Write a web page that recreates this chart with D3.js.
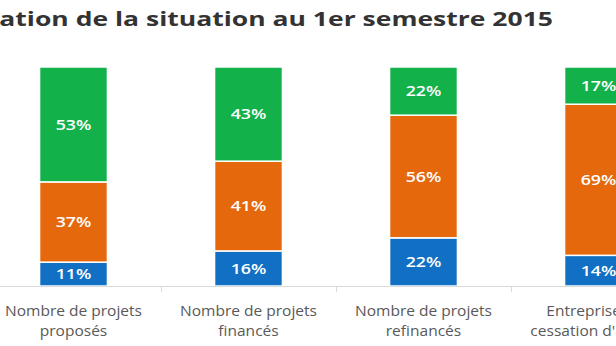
<!DOCTYPE html>
<html>
<head>
<meta charset="utf-8">
<script src="https://cdn.jsdelivr.net/npm/d3@7"></script>
<style>
  body { margin: 0; background: #fff; overflow: hidden; }
  svg { display: block; }
</style>
</head>
<body>
<div id="chart"></div>
<script>
// chart values
var categories = [
    ["Nombre de projets", "proposés"],
    ["Nombre de projets", "financés"],
    ["Nombre de projets", "refinancés"],
    ["Entreprises en", "cessation d'activité"]
];
var seriesNames = ["bleu", "orange", "vert"];
var blueValues = [11, 16, 22, 14];
var orangeValues = [37, 41, 56, 69];
var greenValues = [53, 43, 22, 17];
var titleText = "Évaluation de la situation au 1er semestre 2015";

var colors = {bleu: "#1170c4", orange: "#e5690c", vert: "#13b14a"};

var width = 616, height = 346;
var margin = {top: 67, bottom: 60};
var axisY = height - margin.bottom;
// the source picture is stretched sideways, so the texts are too
var stretch = 1.27;

var rows = categories.map(function(c, i) {
    return {key: i, bleu: blueValues[i], orange: orangeValues[i], vert: greenValues[i]};
});

var stack = d3.stack().keys(seriesNames).offset(d3.stackOffsetExpand);
var layers = stack(rows);

var x = d3.scaleBand()
    .domain(d3.range(categories.length))
    .range([-14, -14 + 175 * categories.length])
    .paddingInner(0.612)
    .paddingOuter(0.306);

var y = d3.scaleLinear().domain([0, 1]).range([axisY, margin.top]);

var svg = d3.select("#chart").append("svg")
    .attr("width", width)
    .attr("height", height);

svg.append("text")
    .attr("transform", "translate(553,26) scale(1.36,1)")
    .attr("text-anchor", "end")
    .style("font-family", "'Open Sans', sans-serif")
    .style("font-weight", "bold")
    .style("font-size", "19.5px")
    .style("fill", "#333")
    .text(titleText);

var groups = svg.selectAll("g.layer")
    .data(layers)
    .enter().append("g")
    .attr("class", "layer")
    .attr("fill", function(d) { return colors[d.key]; });

groups.selectAll("rect")
    .data(function(d) { return d; })
    .enter().append("rect")
    .attr("x", function(d, i) { return x(i); })
    .attr("width", x.bandwidth())
    .attr("y", function(d) { return y(d[1]); })
    .attr("height", function(d) { return y(d[0]) - y(d[1]); })
    .attr("stroke", "#fff")
    .attr("stroke-width", 1.5);

groups.selectAll("text")
    .data(function(d) { return d.map(function(p) { return {p: p, key: d.key}; }); })
    .enter().append("text")
    .attr("transform", function(d, i) {
        var cx = x(i) + x.bandwidth() / 2,
            cy = (y(d.p[0]) + y(d.p[1])) / 2;
        return "translate(" + cx + "," + cy + ") scale(" + stretch + ",1)";
    })
    .attr("dy", "0.36em")
    .attr("text-anchor", "middle")
    .style("font-family", "'Open Sans', sans-serif")
    .style("font-weight", "600")
    .style("font-size", "14px")
    .style("fill", "#fff")
    .text(function(d) { return d.p.data[d.key] + "%"; });

// category axis
svg.append("line")
    .attr("x1", 0).attr("x2", width)
    .attr("y1", axisY + 0.5).attr("y2", axisY + 0.5)
    .attr("stroke", "#d9d9d9");

var ticks = d3.range(1, categories.length).map(function(i) {
    return x(i) - x.step() * x.paddingInner() / 2;
});
svg.selectAll("line.tick")
    .data(ticks)
    .enter().append("line")
    .attr("class", "tick")
    .attr("x1", function(d) { return Math.round(d) + 0.5; })
    .attr("x2", function(d) { return Math.round(d) + 0.5; })
    .attr("y1", axisY)
    .attr("y2", axisY + 6)
    .attr("stroke", "#d9d9d9");

var labels = svg.selectAll("text.cat")
    .data(categories)
    .enter().append("text")
    .attr("class", "cat")
    .attr("transform", function(d, i) {
        return "translate(" + (x(i) + x.bandwidth() / 2) + ",0) scale(1.11,1)";
    })
    .attr("text-anchor", "middle")
    .style("font-family", "'Open Sans', sans-serif")
    .style("font-size", "14px")
    .style("fill", "#595959");

labels.selectAll("tspan")
    .data(function(d) { return d; })
    .enter().append("tspan")
    .attr("x", 0)
    .attr("y", function(d, j) { return 316 + j * 20; })
    .text(function(d) { return d; });
</script>
</body>
</html>
